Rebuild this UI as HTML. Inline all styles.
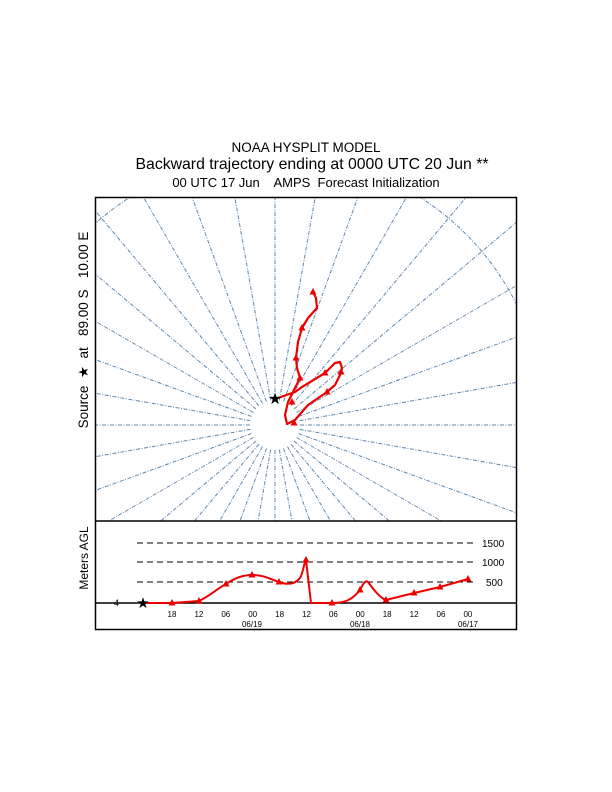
<!DOCTYPE html>
<html><head><meta charset="utf-8"><style>
html,body{margin:0;padding:0;background:#fff;overflow:hidden;width:612px;height:792px;}
svg{display:block;font-family:"Liberation Sans",sans-serif;}
text{white-space:pre;}
</style></head><body>
<svg id="s" width="612" height="792" viewBox="0 0 612 792" xmlns="http://www.w3.org/2000/svg" xml:space="preserve">
<rect width="612" height="792" fill="#fff"/>
<text x="306" y="152" font-size="13.5" text-anchor="middle">NOAA HYSPLIT MODEL</text>
<text x="312" y="169" font-size="15.8" text-anchor="middle">Backward trajectory ending at 0000 UTC 20 Jun **</text>
<text x="306" y="187" font-size="13" text-anchor="middle">00 UTC 17 Jun    AMPS  Forecast Initialization</text>
<defs><clipPath id="c"><rect x="96" y="198" width="420" height="323"/></clipPath></defs>
<g id="grid" clip-path="url(#c)" stroke="#5f87ad" stroke-width="1" stroke-dasharray="4,1.5,1,1.5" fill="none">
<circle cx="275" cy="425" r="270"/>
</g>
<path d="M275,399 L295,392 L302,387 L325,373 L335,363 L340,362 L342,368 L341,373 L335,385 L327,392 L308,405 L295,420 L287,424 L285,415 L288,402 L295,388 L300,378 L297,368 L296,358 L298,342 L302,328 L308,318 L317,308 L316,298 L313,292" fill="none" stroke="#e00" stroke-width="2.2" stroke-linejoin="round"/>
<g fill="#e00" id="tri"></g>
<text x="275" y="404" font-size="16" text-anchor="middle">★</text>
<rect x="95.5" y="197.5" width="421" height="432" fill="none" stroke="#000" stroke-width="1.5"/>
<line x1="95" y1="521" x2="517" y2="521" stroke="#000" stroke-width="1.5"/>
<line x1="95" y1="603" x2="517" y2="603" stroke="#000" stroke-width="1.5"/>
<g stroke="#000" stroke-dasharray="6,4" stroke-width="1">
<line x1="137" y1="543" x2="473" y2="543"/><line x1="137" y1="562" x2="473" y2="562"/><line x1="137" y1="582" x2="473" y2="582"/>
</g>
<g font-size="10"><text x="482" y="547">1500</text><text x="482" y="566">1000</text><text x="486" y="586">500</text><text x="114" y="606" font-size="9">4</text></g>
<path d="M143,603 L172,603 L199,601 C210,596 218,588 226,584 C236,577 244,575 252,575 C265,575 272,580 279,582 C290,586 296,583 300,578 C303,574 304,562 306,560 L311,603 L332,603 C345,603 352,600 360,590 C364,582 366,580 368,582 C374,590 380,598 386,600 L414,593 L440,587 L468,579" fill="none" stroke="#e00" stroke-width="2"/>
<g id="tri2" fill="#e00"></g>
<text x="143" y="608" font-size="15" text-anchor="middle">★</text>
<g font-size="8" text-anchor="middle" id="ticks"></g>
<text transform="translate(88,330) rotate(-90)" font-size="13.5" text-anchor="middle">Source  ★  at   89.00 S   10.00 E</text>
<text transform="translate(88,558) rotate(-90)" font-size="12" text-anchor="middle">Meters AGL</text>
</svg>
<script>
var ns="http://www.w3.org/2000/svg",g=document.getElementById("grid");
for(var a=0;a<360;a+=10){var r=a*Math.PI/180,l=document.createElementNS(ns,"line");
l.setAttribute("x1",275+25*Math.cos(r));l.setAttribute("y1",425+25*Math.sin(r));
l.setAttribute("x2",275+600*Math.cos(r));l.setAttribute("y2",425+600*Math.sin(r));g.appendChild(l);}
function tri(id,pts){var t=document.getElementById(id);pts.forEach(function(p){var e=document.createElementNS(ns,"polygon");
e.setAttribute("points",(p[0])+","+(p[1]-4)+" "+(p[0]-3.5)+","+(p[1]+2.5)+" "+(p[0]+3.5)+","+(p[1]+2.5));t.appendChild(e);});}
tri("tri",[[313,292],[302,328],[296,358],[300,378],[325,373],[341,372],[327,392],[292,402],[294,423]]);
tri("tri2",[[172,603],[199,601],[226,584],[252,575],[279,582],[306,560],[332,603],[360,590],[386,600],[414,593],[440,587],[468,579]]);
var tk=document.getElementById("ticks"),lab=["18","12","06","00","18","12","06","00","18","12","06","00"];
lab.forEach(function(s,i){var x=172+i*26.9,t=document.createElementNS(ns,"text");t.setAttribute("x",x);t.setAttribute("y",617);t.textContent=s;tk.appendChild(t);});
[["06/19",252],["06/18",360],["06/17",468]].forEach(function(d){var t=document.createElementNS(ns,"text");t.setAttribute("x",d[1]);t.setAttribute("y",627);t.textContent=d[0];tk.appendChild(t);});
</script>
</body></html>
